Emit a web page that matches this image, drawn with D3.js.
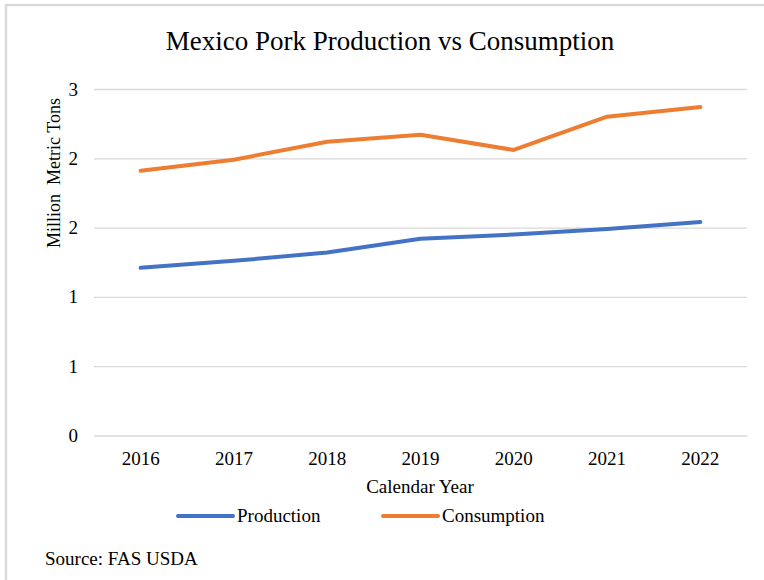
<!DOCTYPE html>
<html>
<head>
<meta charset="utf-8">
<script src="https://cdn.jsdelivr.net/npm/d3@7"></script>
<style>
  html, body { margin: 0; padding: 0; background: #fff; }
  svg { display: block; }
  text { font-family: "Liberation Serif", "Times New Roman", serif; fill: #000; }
</style>
</head>
<body>
<svg id="chart" width="764" height="580"></svg>
<script>
// Mexico pork, million metric tons (calendar years)
const years = ["2016", "2017", "2018", "2019", "2020", "2021", "2022"];
const production = [1.21, 1.26, 1.32, 1.42, 1.45, 1.49, 1.54];
const consumption = [1.91, 1.99, 2.12, 2.17, 2.06, 2.30, 2.37];
const yTicks = [0, 0.5, 1, 1.5, 2, 2.5];
const seriesNames = ["Production", "Consumption"];
const seriesColors = ["#4472C4", "#ED7D31"];

const svg = d3.select("#chart");
const W = 764, H = 580;
const margin = { left: 94, right: 17, top: 89, bottom: 144.5 };
const plotW = W - margin.left - margin.right;
const plotH = H - margin.top - margin.bottom;
const labelSize = 19;

// chart frame
svg.append("path")
  .attr("d", `M6,${H} V5 H${W}`)
  .attr("fill", "none")
  .attr("stroke", "#d9d9d9")
  .attr("stroke-width", 2.5);

// title
svg.append("text")
  .attr("x", 390).attr("y", 50)
  .attr("text-anchor", "middle")
  .attr("font-size", 27)
  .text("Mexico Pork Production vs Consumption");

const g = svg.append("g").attr("transform", `translate(${margin.left},${margin.top})`);

const x = d3.scaleBand().domain(years).range([0, plotW]);
const y = d3.scaleLinear().domain([0, 2.5]).range([plotH, 0]);

// horizontal gridlines with rounded whole-number labels
const yAxis = g.append("g")
  .call(d3.axisLeft(y).tickValues(yTicks).tickSize(-plotW).tickPadding(16)
    .tickFormat(d3.format(".0f")));
yAxis.select(".domain").remove();
yAxis.selectAll(".tick line").attr("stroke", "#d9d9d9").attr("stroke-width", 1.3);
yAxis.selectAll(".tick text").attr("font-size", labelSize).attr("font-family", "Liberation Serif");

// category labels
const xAxis = g.append("g")
  .attr("transform", `translate(0,${plotH})`)
  .call(d3.axisBottom(x).tickSize(0).tickPadding(16));
xAxis.select(".domain").remove();
xAxis.selectAll(".tick text").attr("font-size", labelSize).attr("font-family", "Liberation Serif");

// axis titles
svg.append("text")
  .attr("x", 420).attr("y", 493)
  .attr("text-anchor", "middle")
  .attr("font-size", labelSize)
  .text("Calendar Year");

svg.append("text")
  .attr("transform", "translate(60,173) rotate(-90)")
  .attr("text-anchor", "middle")
  .attr("font-size", 18)
  .attr("xml:space", "preserve")
  .style("white-space", "pre")
  .text("Million  Metric Tons");

// series lines
const line = d3.line()
  .x((d, i) => x(years[i]) + x.bandwidth() / 2)
  .y(d => y(d));

[production, consumption].forEach((vals, k) => {
  g.append("path")
    .datum(vals)
    .attr("fill", "none")
    .attr("stroke", seriesColors[k])
    .attr("stroke-width", 4)
    .attr("stroke-linecap", "round")
    .attr("stroke-linejoin", "round")
    .attr("d", line);
});

// legend
const legendX = [178, 383];
seriesNames.forEach((name, k) => {
  const lg = svg.append("g").attr("transform", `translate(${legendX[k]},516)`);
  lg.append("line")
    .attr("x1", 0).attr("x2", 55)
    .attr("stroke", seriesColors[k])
    .attr("stroke-width", 4)
    .attr("stroke-linecap", "round");
  lg.append("text")
    .attr("x", 59).attr("y", 6)
    .attr("font-size", labelSize)
    .text(name);
});

// source note
svg.append("text")
  .attr("x", 45).attr("y", 565)
  .attr("font-size", labelSize)
  .text("Source: FAS USDA");
</script>
</body>
</html>
